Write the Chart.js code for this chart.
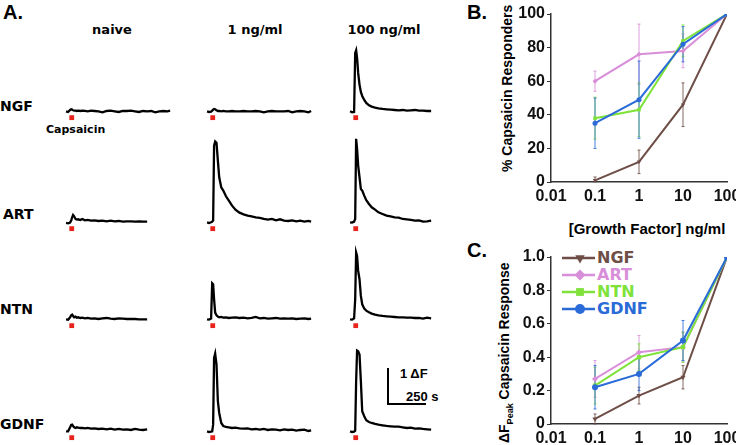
<!DOCTYPE html>
<html>
<head>
<meta charset="utf-8">
<script src="https://cdn.jsdelivr.net/npm/chart.js@4.4.1/dist/chart.umd.min.js"></script>
<style>
  body { margin: 0; background: #fff; }
  #fig { position: relative; width: 736px; height: 445px; overflow: hidden; background: #fff; }
  #fig canvas { position: absolute; }
  .lbl { position: absolute; white-space: nowrap; color: #000; font-weight: bold; transform: translateY(-50%); }
  .ctr { transform: translate(-50%, -50%); }
  .arial { font-family: "Liberation Sans", Arial, sans-serif; }
  .dv { font-family: "DejaVu Sans", sans-serif; }
  .rot { position: absolute; white-space: nowrap; font: bold 14px/16px "Liberation Sans", Arial, sans-serif;
         transform-origin: 0 0; transform: rotate(-90deg); color: #000; }
</style>
</head>
<body>
<div id="fig">
  <div class="lbl arial" style="left:3px;top:12px;font-size:20px;line-height:20px">A.</div>
  <div class="lbl arial" style="left:467px;top:12px;font-size:20px;line-height:20px">B.</div>
  <div class="lbl arial" style="left:467px;top:250px;font-size:20px;line-height:20px">C.</div>

  <div class="lbl ctr dv" style="left:112px;top:28.5px;font-size:13px;line-height:13px">naive</div>
  <div class="lbl ctr dv" style="left:255px;top:28.5px;font-size:13px;line-height:13px">1 ng/ml</div>
  <div class="lbl ctr dv" style="left:384px;top:28.5px;font-size:13px;line-height:13px">100 ng/ml</div>

  <div class="lbl dv" style="left:0px;top:105.5px;font-size:14px;line-height:14px">NGF</div>
  <div class="lbl dv" style="left:3px;top:214px;font-size:14px;line-height:14px">ART</div>
  <div class="lbl dv" style="left:0px;top:308.5px;font-size:14px;line-height:14px">NTN</div>
  <div class="lbl dv" style="left:0px;top:424px;font-size:14px;line-height:14px">GDNF</div>
  <div class="lbl dv" style="left:46px;top:129px;font-size:11px;line-height:11px">Capsaicin</div>

  <div style="position:absolute;left:386.5px;top:368px;width:2.5px;height:37px;background:#000"></div>
  <div style="position:absolute;left:386.5px;top:402.5px;width:39px;height:2.5px;background:#000"></div>
  <div class="lbl arial" style="left:400px;top:372.5px;font-size:13px;line-height:13px">1 &Delta;F</div>
  <div class="lbl arial" style="left:406px;top:395.5px;font-size:13px;line-height:13px">250 s</div>

  <div class="rot" style="left:499px;top:172px">% Capsaicin Responders</div>
  <div class="lbl ctr arial" style="left:647px;top:228px;font-size:15px;line-height:15px">[Growth Factor] ng/ml</div>
  <div class="rot" style="left:495.5px;top:443px">&Delta;F<sub style="font-size:9px">Peak</sub> Capsaicin Response</div>

  <div id="legend"></div>

  <canvas id="chartB" width="250" height="215" style="left:510px;top:0px;width:250px;height:215px"></canvas>
  <canvas id="chartC" width="250" height="220" style="left:510px;top:240px;width:250px;height:220px"></canvas>
</div>

<script>
// ---- panel A: calcium traces (delta F), sampled at these times (s) ----
const traceTimes = [0, 15, 30, 38, 45, 52, 60, 70, 80, 90, 105, 120, 140, 160, 185, 210, 240, 270, 300, 330,
                    360, 390, 420, 450, 480, 510, 540, 570, 600, 630, 660, 690, 720, 750, 770];

const ngfNaive = [0, -0.02, 0.04, 0.06, 0.05, 0.03, 0.02, 0.02, 0.01, 0.02, 0.01, 0.02, 0.01, 0, 0.02, 0.01, 0, -0.03, 0.01, 0.02,
                  0, -0.02, 0.01, 0.01, 0.02, 0, -0.02, 0.01, 0, 0.01, -0.03, 0, 0.01, 0, 0.02];
const ngf1 = [0, -0.02, -0.01, 0.02, 0.05, 0.07, 0.06, 0.03, 0.01, 0.01, 0, 0.01, 0, 0, 0.01, 0, 0, 0.01, 0, 0,
              0.01, 0, -0.03, 0, 0.01, 0, 0, 0, 0.01, -0.03, 0, 0.01, 0, -0.03, 0.01];
const ngf100 = [0, -0.03, -0.02, 1.75, 1.83, 1.6, 1.15, 0.8, 0.58, 0.46, 0.34, 0.25, 0.18, 0.14, 0.11, 0.09, 0.07, 0.06, 0.05, 0.04,
                0.03, 0.04, 0.02, 0.03, 0.04, 0.02, 0.02, 0.01, 0.01];

const artNaive = [-0.02, -0.03, -0.01, 0.05, 0.15, 0.22, 0.18, 0.1, 0.08, 0.09, 0.07, 0.1, 0.06, 0.07, 0.05, 0.06, 0.04, 0.05, 0.03, 0.05,
                  0.03, 0.04, 0.02, 0.03, 0.03, 0.02, 0.03, 0.02, 0.02];
const art1 = [0, -0.02, 0, 0.02, 0.05, 2.3, 2.42, 2.38, 1.85, 1.35, 1.05, 0.95, 0.78, 0.66, 0.5, 0.38, 0.29, 0.24, 0.2, 0.18,
              0.15, 0.13, 0.1, 0.08, 0.1, 0.06, 0.09, 0.05, 0.04, 0.06, 0.03, 0.05, 0.02, 0.04, 0.02];
const art100 = [0, -0.01, 0.02, 0.1, 2.5, 2.2, 1.7, 1.35, 1.0, 0.95, 0.8, 0.66, 0.55, 0.45, 0.38, 0.3, 0.25, 0.2, 0.18, 0.15,
                0.14, 0.1, 0.09, 0.07, 0.05, 0.06, 0.02, 0.03, 0.05];

const ntnNaive = [0, -0.01, 0.06, 0.12, 0.14, 0.1, 0.06, 0.08, 0.05, 0.06, 0.04, 0.05, 0.03, 0.04, 0.02, 0.03, 0.01, 0.03, 0.04, 0.02,
                  0.01, 0.03, 0.02, 0.01, 0.01, 0.01, 0, 0, 0];
const ntn1 = [0, -0.01, 0.02, 1.08, 1.05, 0.6, 0.2, 0.12, 0.08, 0.06, 0.07, 0.05, 0.06, 0.04, 0.05, 0.06, 0.04, 0.05, 0.03, 0.04,
              0.07, 0.03, 0.04, 0.02, 0.03, 0.04, 0.02, 0.03, 0.02, 0.03, 0.01, 0.02, 0.03, 0.01, 0.02];
const ntn100 = [0, -0.01, 0.03, 0.6, 2.0, 1.9, 1.45, 1.2, 0.7, 0.45, 0.32, 0.26, 0.21, 0.17, 0.14, 0.12, 0.1, 0.09, 0.08, 0.07,
                0.06, 0.06, 0.05, 0.05, 0.04, 0.04, 0.02, 0.05, 0.03];

const gdnfNaive = [0, 0, 0.12, 0.19, 0.2, 0.16, 0.12, 0.1, 0.12, 0.11, 0.1, 0.1, 0.09, 0.1, 0.08, 0.09, 0.07, 0.08, 0.06, 0.08,
                   0.05, 0.07, 0.05, 0.06, 0.04, 0.07, 0.05, 0.04, 0.06];
const gdnf1 = [0, -0.02, -0.01, 0, 0.2, 2.2, 2.33, 2.0, 0.9, 0.55, 0.25, 0.16, 0.13, 0.12, 0.1, 0.11, 0.09, 0.08, 0.09, 0.06,
               0.07, 0.05, 0.07, 0.04, 0.06, 0.05, 0.03, 0.06, 0.04, 0.05, 0.02, 0.04, 0.05, 0.01, 0.03];
const gdnf100 = [0, -0.02, -0.01, 0.02, 1.5, 2.42, 2.4, 2.3, 1.5, 0.6, 0.45, 0.33, 0.28, 0.25, 0.22, 0.2, 0.18, 0.16, 0.15, 0.14,
                 0.14, 0.12, 0.1, 0.11, 0.08, 0.09, 0.07, 0.06, 0.05];

const capsaicinTime = 42; // s, red bar under each trace

// ---- panels B & C ----
const concentrations = [0.1, 1, 10, 100];
const xTickValues = [0.01, 0.1, 1, 10, 100];
const seriesNames = ["NGF", "ART", "NTN", "GDNF"];

const respNGF = [1, 12, 46, 100];
const respART = [60, 76, 78, 100];
const respNTN = [38, 43, 84, 100];
const respGDNF = [35, 49, 82, 100];
const respErrNGF = [2, 7, 13, 0];
const respErrART = [6, 18, 10, 0];
const respErrNTN = [12.5, 16, 9.5, 0];
const respErrGDNF = [15, 23, 10.5, 0];

const peakNGF = [0.03, 0.17, 0.28, 1.0];
const peakART = [0.27, 0.43, 0.46, 1.0];
const peakNTN = [0.23, 0.40, 0.46, 1.0];
const peakGDNF = [0.22, 0.30, 0.50, 1.0];
const peakErrNGF = [0.03, 0.05, 0.07, 0];
const peakErrART = [0.11, 0.10, 0.09, 0];
const peakErrNTN = [0.11, 0.08, 0.09, 0];
const peakErrGDNF = [0.13, 0.10, 0.12, 0];

// styles
const colors = { NGF: "#6e4e47", ART: "#d88ed8", NTN: "#7ee23a", GDNF: "#2b6bd8" };
const markers = {
  NGF: { pointStyle: "triangle", rotation: 180 },
  ART: { pointStyle: "rectRot", rotation: 0 },
  NTN: { pointStyle: "rect", rotation: 0 },
  GDNF: { pointStyle: "circle", rotation: 0 }
};
const fontTick = { family: "'Liberation Sans', Arial, sans-serif", size: 16, weight: "bold" };

// ---------- trace charts ----------
const PX_PER_S = 36 / 250;   // scale bar: 250 s
const PX_PER_DF = 36;        // scale bar: 1 dF
const TW = 130, TH = 110, T_MIN = -30, DF_MIN = -0.35;

const rowBase = [114, 225, 322, 434];
const colStart = [62, 203, 346];
const traceGrid = [
  [ngfNaive, ngf1, ngf100],
  [artNaive, art1, art100],
  [ntnNaive, ntn1, ntn100],
  [gdnfNaive, gdnf1, gdnf100]
];

const fig = document.getElementById("fig");
traceGrid.forEach((row, r) => {
  row.forEach((vals, c) => {
    const cv = document.createElement("canvas");
    cv.width = TW; cv.height = TH;
    const left = colStart[c] - (-T_MIN) * PX_PER_S;
    const top = rowBase[r] - (TH + DF_MIN * PX_PER_DF);
    cv.style.cssText = `left:${left}px;top:${top}px;width:${TW}px;height:${TH}px`;
    fig.appendChild(cv);

    new Chart(cv, {
      type: "line",
      data: {
        datasets: [
          {
            data: vals.map((v, i) => ({ x: traceTimes[i], y: v })),
            borderColor: "#000",
            borderWidth: 2.3,
            pointRadius: 0,
            tension: 0
          },
          {
            type: "scatter",
            data: [{ x: capsaicinTime, y: -0.19 }],
            pointStyle: "rect",
            pointRadius: 3.4,
            backgroundColor: "#e8231c",
            borderWidth: 0
          }
        ]
      },
      options: {
        responsive: false,
        animation: false,
        devicePixelRatio: 1,
        events: [],
        layout: { padding: 0 },
        plugins: { legend: { display: false }, tooltip: { enabled: false } },
        scales: {
          x: { type: "linear", display: false, min: T_MIN, max: T_MIN + TW / PX_PER_S },
          y: { display: false, min: DF_MIN, max: DF_MIN + TH / PX_PER_DF }
        }
      }
    });
  });
});

// ---------- error bars ----------
const errorBars = {
  id: "errorBars",
  beforeDatasetsDraw(chart) {
    const { ctx, scales: { x, y } } = chart;
    ctx.save();
    chart.data.datasets.forEach(ds => {
      if (!ds.errors) return;
      ctx.strokeStyle = ds.borderColor;
      ctx.globalAlpha = 0.85;
      ctx.lineWidth = 1;
      ds.data.forEach((p, j) => {
        const e = ds.errors[j];
        if (!e) return;
        const px = x.getPixelForValue(p.x);
        const y1 = y.getPixelForValue(Math.max(p.y - e, y.min));
        const y2 = y.getPixelForValue(p.y + e);
        ctx.beginPath();
        ctx.moveTo(px, y1); ctx.lineTo(px, y2);
        ctx.moveTo(px - 1.5, y1); ctx.lineTo(px + 1.5, y1);
        ctx.moveTo(px - 1.5, y2); ctx.lineTo(px + 1.5, y2);
        ctx.stroke();
      });
    });
    ctx.restore();
  }
};

// legend for panel C: line + marker drawn on the canvas, text as HTML
const lineLegend = {
  id: "lineLegend",
  afterDraw(chart) {
    const { ctx, chartArea } = chart;
    ctx.save();
    seriesNames.forEach((name, i) => {
      const yy = chartArea.top + 1 + 17 * i;
      ctx.strokeStyle = colors[name];
      ctx.fillStyle = colors[name];
      ctx.lineWidth = 2.5;
      ctx.beginPath();
      ctx.moveTo(chartArea.left + 11, yy);
      ctx.lineTo(chartArea.left + 44, yy);
      ctx.stroke();
      Chart.helpers.drawPoint(ctx, {
        pointStyle: markers[name].pointStyle,
        rotation: markers[name].rotation,
        radius: name === "GDNF" ? 5 : 5.5,
        borderWidth: 0
      }, chartArea.left + 29, yy);
    });
    ctx.restore();
  }
};

function buildSets(vals, errs, radius) {
  return seriesNames.map((name, k) => ({
    label: name,
    data: concentrations.map((c, j) => ({ x: c, y: vals[k][j] })),
    errors: errs[k],
    borderColor: colors[name],
    backgroundColor: colors[name],
    borderWidth: 2,
    pointRadius: radius,
    pointBorderWidth: 0,
    pointStyle: markers[name].pointStyle,
    rotation: markers[name].rotation,
    order: 3 - k,
    tension: 0
  }));
}

function xAxis(height) {
  return {
    type: "logarithmic",
    min: 0.01, max: 100,
    afterBuildTicks: s => { s.ticks = xTickValues.map(v => ({ value: v })); },
    afterFit: s => { s.height = height; },
    ticks: { font: fontTick, color: "#111", padding: 5, maxRotation: 0, autoSkip: false, callback: v => String(v) },
    grid: { drawOnChartArea: false, drawTicks: false },
    border: { color: "#333", width: 1.5 }
  };
}

function yAxis(max, step, fmt) {
  return {
    min: 0, max: max,
    afterFit: s => { s.width = 41; },
    ticks: { stepSize: step, font: fontTick, color: "#111", padding: 2, callback: fmt },
    grid: { drawOnChartArea: false, tickLength: 4, color: "#333" },
    border: { color: "#333", width: 1.5 }
  };
}

const baseOpts = {
  responsive: false,
  animation: false,
  devicePixelRatio: 1,
  events: [],
  plugins: { legend: { display: false }, tooltip: { enabled: false } }
};

new Chart(document.getElementById("chartB"), {
  type: "line",
  data: {
    datasets: buildSets([respNGF, respART, respNTN, respGDNF],
                        [respErrNGF, respErrART, respErrNTN, respErrGDNF], 2.5)
  },
  options: Object.assign({}, baseOpts, {
    layout: { padding: { top: 14, right: 33, left: 0, bottom: 0 } },
    scales: { x: xAxis(33), y: yAxis(100, 20, v => String(v)) }
  }),
  plugins: [errorBars]
});

new Chart(document.getElementById("chartC"), {
  type: "line",
  data: {
    datasets: buildSets([peakNGF, peakART, peakNTN, peakGDNF],
                        [peakErrNGF, peakErrART, peakErrNTN, peakErrGDNF], 3)
  },
  options: Object.assign({}, baseOpts, {
    layout: { padding: { top: 17, right: 33, left: 0, bottom: 0 } },
    scales: { x: xAxis(36), y: yAxis(1, 0.2, v => (v === 0 ? "0" : v.toFixed(1))) }
  }),
  plugins: [errorBars, lineLegend]
});

// legend labels
const legendDiv = document.getElementById("legend");
seriesNames.forEach((name, i) => {
  const d = document.createElement("div");
  d.className = "lbl dv";
  d.style.cssText = `left:597px;top:${258 + 17 * i}px;font-size:16px;line-height:16px;color:${colors[name]}`;
  d.textContent = name;
  legendDiv.appendChild(d);
});
</script>
</body>
</html>
